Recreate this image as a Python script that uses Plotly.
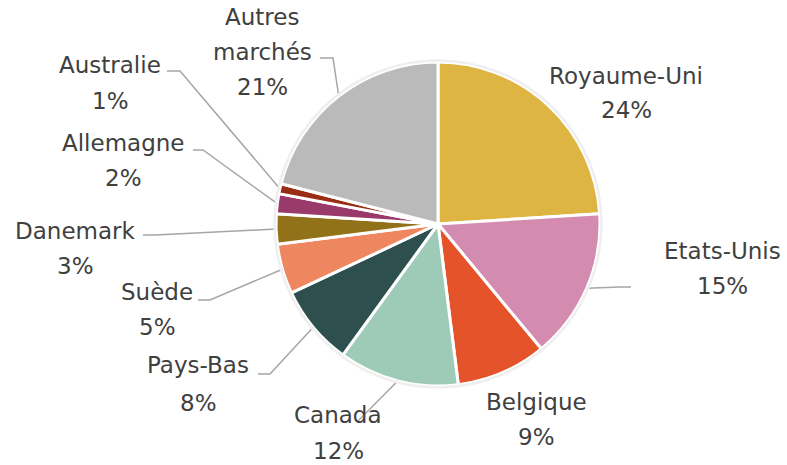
import math
import plotly.graph_objects as go

# ---- data ----
countries = ["Royaume-Uni", "Etats-Unis", "Belgique", "Canada", "Pays-Bas",
             "Suède", "Danemark", "Allemagne", "Australie", "Autres marchés"]
shares = [24, 15, 9, 12, 8, 5, 3, 2, 1, 21]
colors = ["#DEB543", "#D48BB0", "#E5532B", "#9ECAB8", "#2D4F4E",
          "#EE875F", "#927219", "#9A3A6A", "#9A2E14", "#BABABA"]

# ---- layout (pixels) ----
W, H = 787, 465
CX, CY, R = 438, 224, 162
FONT = "DejaVu Sans"
FSIZE = 23
TXT = "#404040"
LEADER = "#A6A6A6"

# label line centres (x, y_name lines, y_pct)
label_pos = {
    "Royaume-Uni": (626, [76], 110),
    "Etats-Unis": (722, [251], 286),
    "Belgique": (536, [402], 437),
    "Canada": (338, [415], 451),
    "Pays-Bas": (198, [365], 403),
    "Suède": (157, [292], 327),
    "Danemark": (75, [231], 266),
    "Allemagne": (123, [143], 178),
    "Australie": (110, [65], 101),
    "Autres marchés": (262, [17, 52], 87),
}
# leader: elbow point and end point near label
leaders = {
    "Etats-Unis": ((620, 287), (631, 287)),
    "Canada": ((357, 422), (357, 422)),
    "Pays-Bas": ((270, 374), (258, 374)),
    "Suède": ((210, 300), (198, 300)),
    "Danemark": ((155, 235), (143, 235)),
    "Allemagne": ((203, 150), (193, 150)),
    "Australie": ((180, 71), (167, 71)),
    "Autres marchés": ((333, 58), (320, 58)),
}


def px(x):
    return x / W


def py(y):
    return 1 - y / H


fig = go.Figure(go.Pie(
    labels=countries,
    values=shares,
    sort=False,
    direction="clockwise",
    rotation=0,
    textinfo="none",
    hoverinfo="label+percent",
    marker=dict(colors=colors, line=dict(color="white", width=3)),
    domain=dict(x=[px(CX - R), px(CX + R)], y=[py(CY + R), py(CY - R)]),
    showlegend=False,
))

total = sum(shares)
annotations = []
shapes = []
cum = 0
for name, val in zip(countries, shares):
    mid = (cum + val / 2) / total * 2 * math.pi
    cum += val
    x, name_ys, y_pct = label_pos[name]
    parts = name.split(" ") if len(name_ys) == 2 else [name]
    for part, yy in zip(parts, name_ys):
        annotations.append(dict(x=px(x), y=py(yy), xref="paper", yref="paper",
                                text=part, showarrow=False, xanchor="center",
                                yanchor="middle",
                                font=dict(family=FONT, size=FSIZE, color=TXT)))
    pct = round(val / total * 100)
    annotations.append(dict(x=px(x), y=py(y_pct), xref="paper", yref="paper",
                            text=f"{pct}%", showarrow=False, xanchor="center",
                            yanchor="middle",
                            font=dict(family=FONT, size=FSIZE, color=TXT)))
    if name in leaders:
        (ex, ey), (tx, ty) = leaders[name]
        sx = CX + R * math.sin(mid)
        sy = CY - R * math.cos(mid)
        path = f"M {px(sx)},{py(sy)} L {px(ex)},{py(ey)} L {px(tx)},{py(ty)}"
        shapes.append(dict(type="path", path=path, xref="paper", yref="paper",
                           line=dict(color=LEADER, width=1.5), layer="above"))

# light outline around the pie
ro = R + 1.5
shapes.append(dict(type="circle", xref="paper", yref="paper",
                   x0=px(CX - ro), x1=px(CX + ro), y0=py(CY + ro), y1=py(CY - ro),
                   line=dict(color="#EFEFEF", width=2.5), layer="above"))

fig.update_layout(
    width=W, height=H,
    margin=dict(l=0, r=0, t=0, b=0),
    paper_bgcolor="white",
    plot_bgcolor="white",
    annotations=annotations,
    shapes=shapes,
)

fig.write_html("out.html",
               config={"displayModeBar": False},
               post_script="document.body.style.margin='0';document.body.style.overflow='hidden';")
